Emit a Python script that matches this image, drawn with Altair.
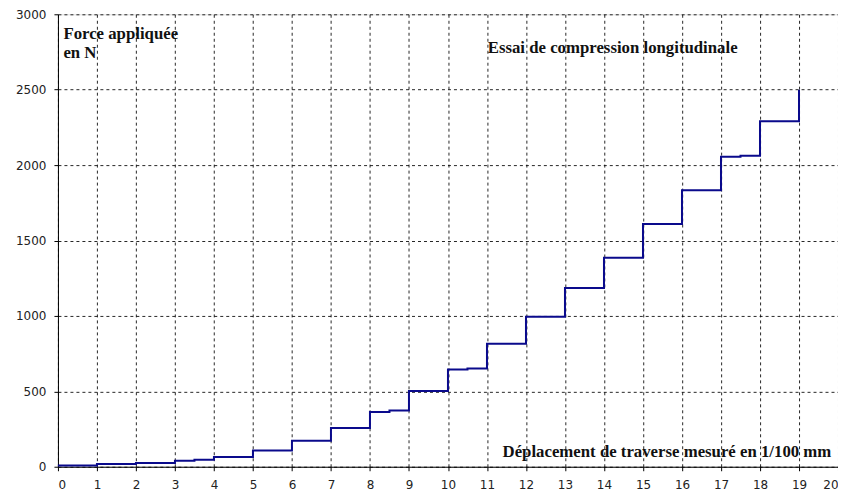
import altair as alt
import pandas as pd

# Step data (displacement in 1/100 mm, force in N) - step-after
disp = [0, 1, 2, 3, 3.5, 4, 5, 6, 7, 8, 8.5, 9, 10, 10.5, 11, 12, 13, 14, 15, 16, 17, 17.5, 18, 19]
force = [8, 18, 25, 40, 47, 65, 108, 172, 257, 363, 373, 502, 644, 652, 816, 995, 1185, 1385, 1610, 1833, 2055, 2062, 2290, 2500]

ann_text = ["Force appliquée", "en N", "Essai de compression longitudinale",
            "Déplacement de traverse mesuré en 1/100 mm"]
ann_x = [0.14, 0.14, 11.02, 11.40]
ann_y = [2837, 2712, 2742, 66]

df = pd.DataFrame({"x": disp, "y": force})
ann = pd.DataFrame({"t": ann_text, "x": ann_x, "y": ann_y})

xs = alt.Scale(domain=[0, 20], nice=False, zero=False)
ys = alt.Scale(domain=[0, 3000], nice=False)

xax = alt.Axis(values=list(range(0, 21)), title=None, grid=True, tickSize=4,
               labelPadding=9, labelFontSize=12, labelFont="DejaVu Sans",
               labelColor="#222", domainColor="#000", tickColor="#000",
               gridColor="#000", gridDash=[3, 3], gridOpacity=0.85,
               labelFlush=True, labelOverlap=False, labelBound=False, format="d")
yax = alt.Axis(values=list(range(0, 3001, 500)), title=None, grid=True, tickSize=4,
               labelPadding=8, labelFontSize=12, labelFont="DejaVu Sans",
               labelColor="#222", domainColor="#000", tickColor="#000",
               gridColor="#000", gridDash=[3, 3], gridOpacity=0.85,
               labelOverlap=False, format="d")

line = alt.Chart(df).mark_line(interpolate="step-after", color="#0A0A8C", strokeWidth=2).encode(
    x=alt.X("x:Q", scale=xs, axis=xax),
    y=alt.Y("y:Q", scale=ys, axis=yax),
)

text = alt.Chart(ann).mark_text(align="left", baseline="alphabetic", font="Liberation Serif",
                                fontWeight="bold", fontSize=16.8, color="#111").encode(
    x=alt.X("x:Q", scale=xs, axis=xax),
    y=alt.Y("y:Q", scale=ys, axis=yax),
    text="t:N",
)

chart = alt.layer(line, text).properties(
    width=781, height=453,
    autosize=alt.AutoSizeParams(type="none"),
    padding={"left": 50, "top": 6, "right": 0, "bottom": 29},
).configure_view(stroke=None).configure(background="white")

chart.save("out.html", embed_options={"renderer": "svg", "actions": False})
